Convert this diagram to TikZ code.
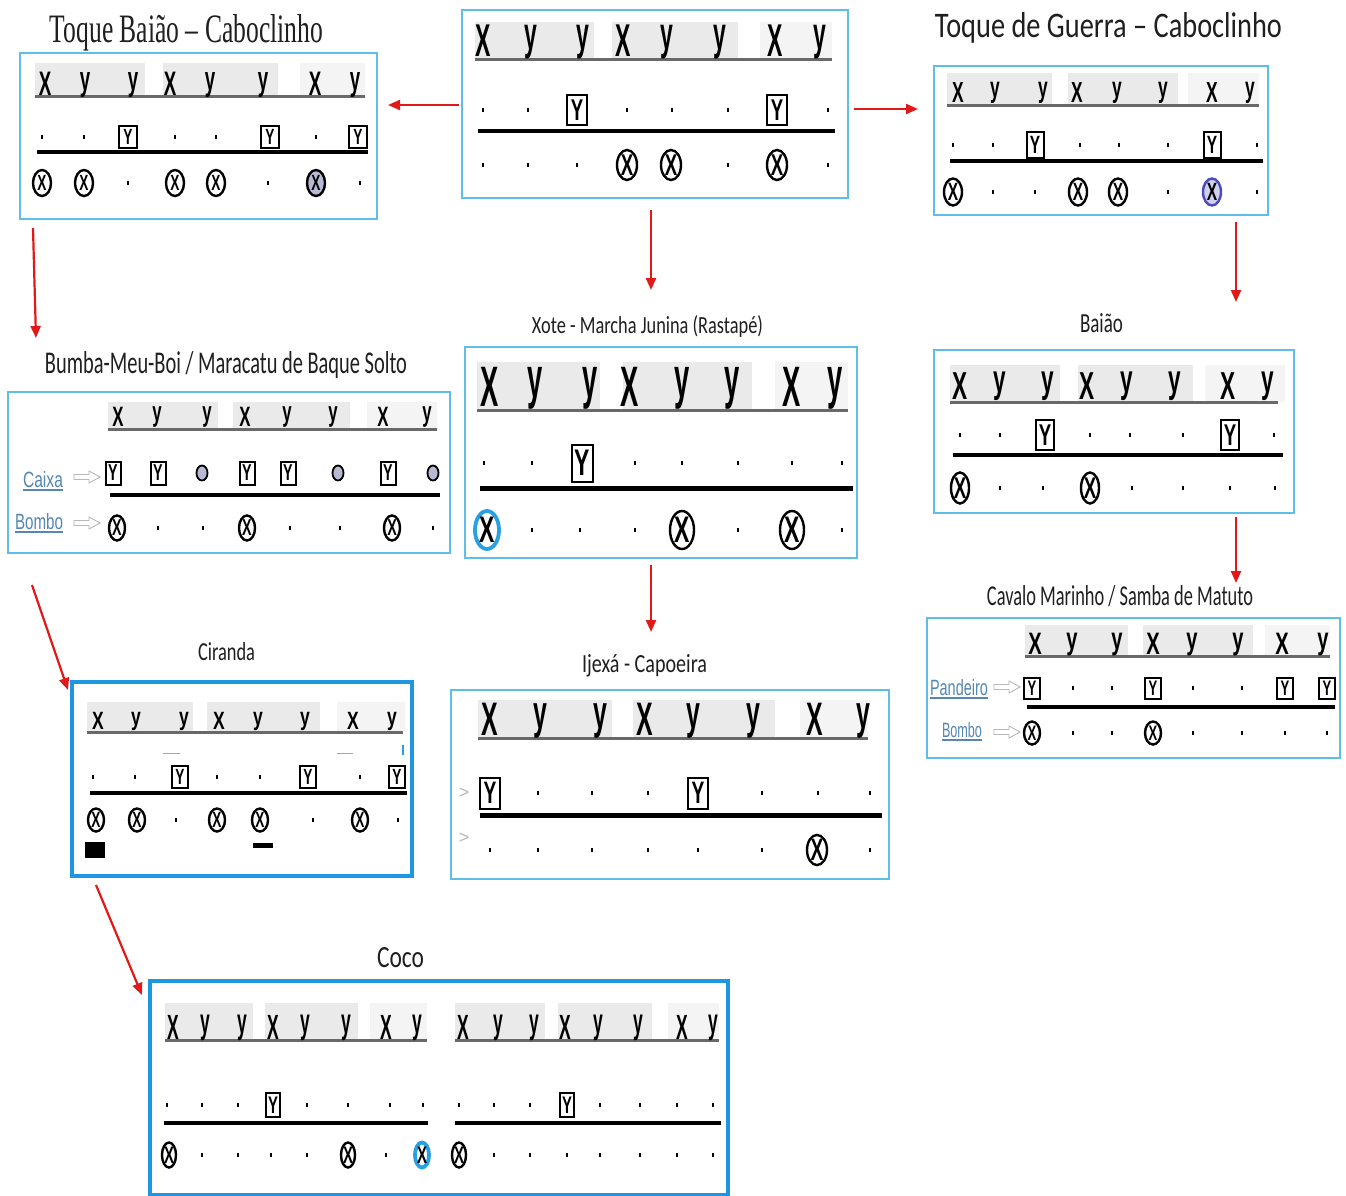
\documentclass[tikz,border=0pt]{standalone}
\usepackage{fontspec}
\usepackage{graphicx}
\usetikzlibrary{shapes.geometric,arrows.meta,calc}
\newfontfamily\hdf{Liberation Sans}
\newfontfamily\tsf{Carlito}
\newfontfamily\tsr{Liberation Serif}
\definecolor{panelblue}{RGB}{95,190,232}
\definecolor{panelblueB}{RGB}{30,150,225}
\definecolor{hdgray}{RGB}{234,234,234}
\definecolor{hdgrayL}{RGB}{244,244,244}
\definecolor{ulgray}{RGB}{105,105,105}
\definecolor{lav}{RGB}{185,185,212}
\definecolor{lavB}{RGB}{208,208,238}
\definecolor{violetblue}{RGB}{75,75,185}
\definecolor{ringblue}{RGB}{40,160,225}
\definecolor{lblue}{RGB}{85,135,178}
\definecolor{arrred}{RGB}{225,25,25}
\def\HS{30}\def\HX{0.55}\def\BW{18}\def\BH{22}\def\CW{18}\def\CH{26}\def\GS{20}
\newcommand\setp[7]{\def\HS{#1}\def\HX{#2}\def\BW{#3}\def\BH{#4}\def\CW{#5}\def\CH{#6}\def\GS{#7}}
\newcommand\gly[1]{\scalebox{0.62}[1]{\hdf\bfseries\fontsize{\GS}{\GS}\selectfont #1}}
\def\Tdt{}
\def\Tsc{}
\def\Tby{\gly{Y}}
\def\Tcx{\gly{X}}
\def\Tcxg{\gly{X}}
\def\Tcxv{\gly{X}}
\def\Tcxb{\gly{X}}
\newcommand\glyrow[3]{\foreach \x/\typ [count=\i] in {#3} {\node[\typ] (#1\i) at (\x,#2) {\csname T\typ\endcsname};}}
\newcommand\hdrow[3]{\foreach \x [count=\i] in {#3} {\node[hd] (#1\i) at (\x,#2) {\scalebox{\HX}[1]{\ifnum\i=1 X\else\ifnum\i=4 X\else\ifnum\i=7 X\else y\fi\fi\fi}};}}
\newcommand\gblk[4]{\fill[hdgray] (#1,#2) rectangle (#3,#4);}
\newcommand\gblkL[4]{\fill[hdgrayL] (#1,#2) rectangle (#3,#4);}
\newcommand\harrow[2]{\draw[hollow] (#1,#2-2.5) -- ++(15,0) -- ++(0,-3.5) -- ++(11,6) -- ++(-11,6) -- ++(0,-3.5) -- ++(-15,0) -- cycle;}
\tikzset{
  panel/.style={rectangle, draw=panelblue, line width=2, fill=white, inner sep=0, outer sep=0, anchor=north west},
  panelB/.style={panel, draw=panelblueB, line width=3.5},
  ttl/.style={anchor=base, inner sep=0, outer sep=0, text=black!88},
  hd/.style={anchor=north, inner sep=0, font=\hdf\bfseries\fontsize{\HS}{\HS}\selectfont},
  dt/.style={rectangle, fill=black, inner sep=0, minimum width=2.8, minimum height=4.4},
  by/.style={rectangle, draw=black, line width=2, fill=white, inner sep=0, minimum width=\BW, minimum height=\BH},
  cx/.style={ellipse, draw=black, line width=2.4, fill=white, inner sep=0, minimum width=\CW, minimum height=\CH},
  cxg/.style={cx, fill=lav},
  cxv/.style={cx, draw=violetblue, fill=lavB},
  cxb/.style={cx, draw=ringblue, line width=3.8},
  sc/.style={ellipse, draw=black, line width=1.8, fill=lav, inner sep=0, minimum width=11, minimum height=15},
  ul/.style={draw=ulgray, line width=3},
  bar/.style={draw=black, line width=4},
  arr/.style={draw=arrred, line width=2.2, -{Triangle[length=12pt,width=10pt]}},
  lab/.style={anchor=base, inner sep=0, outer sep=0, text=lblue},
  hollow/.style={draw=black!28, line width=0.9, fill=white},
}
\begin{document}
\begin{tikzpicture}[x=1pt, y=-1pt]
\useasboundingbox (0,0) rectangle (1346,1196);
\fill[white] (0,0) rectangle (1346,1196);

% ---------- panels ----------
\node[panel, minimum width=357, minimum height=166] (pA) at (20,53) {};
\node[panel, minimum width=386, minimum height=188] (pB) at (462,10) {};
\node[panel, minimum width=334, minimum height=149] (pC) at (934,66) {};
\node[panel, minimum width=442, minimum height=161] (pD) at (8,392) {};
\node[panel, minimum width=392, minimum height=211] (pE) at (465,347) {};
\node[panel, minimum width=360, minimum height=163] (pF) at (934,350) {};
\node[panel, minimum width=413, minimum height=140] (pG) at (927,618) {};
\node[panelB, minimum width=340, minimum height=194] (pH) at (72,682) {};
\node[panel, minimum width=438, minimum height=189] (pI) at (451,690) {};
\node[panelB, minimum width=578, minimum height=214] (pJ) at (150,981) {};

% ---------- A: Toque Baiao ----------
\setp{34}{0.55}{18}{22}{18}{26}{22}
\gblk{35}{63}{145}{97}\gblk{163}{63}{278}{97}\gblkL{300}{63}{365}{97}
\draw[ul] (35,97) -- (365,97);
\hdrow{Ah}{72}{45,85,133,170,210,263,315,355}
\glyrow{Am}{137}{42/dt,84/dt,128/by,175/dt,216/dt,270/by,316/dt,358/by}
\draw[bar] (37,152) -- (368,152);
\glyrow{Ab}{183}{42/cx,84/cx,128/dt,175/cx,216/cx,268/dt,316/cxg,360/dt}

% ---------- B: top centre ----------
\setp{46}{0.5}{20}{30}{20}{30}{30}
\gblk{475}{22}{594}{60}\gblk{612}{22}{738}{60}\gblkL{760}{22}{832}{60}
\draw[ul] (475,60) -- (832,60);
\hdrow{Bh}{25}{483,531,583,623,667,720,775,820}
\glyrow{Bm}{110}{483/dt,528/dt,577/by,627/dt,672/dt,728/dt,777/by,828/dt}
\draw[bar] (478,131) -- (835,131);
\glyrow{Bb}{165}{483/dt,528/dt,577/dt,627/cx,671/cx,728/dt,777/cx,828/dt}

% ---------- C: Toque de Guerra ----------
\setp{29}{0.6}{17}{25}{18}{27}{25}
\gblk{947}{73}{1052}{106}\gblk{1068}{73}{1178}{106}\gblkL{1188}{73}{1259}{106}
\draw[ul] (947,106) -- (1259,106);
\hdrow{Ch}{82}{958,995,1043,1077,1117,1163,1212,1250}
\glyrow{Cm}{145}{953/dt,993/dt,1035/by,1080/dt,1119/dt,1168/dt,1212/by,1257/dt}
\draw[bar] (950,161) -- (1263,161);
\glyrow{Cb}{192}{953/cx,993/dt,1035/dt,1078/cx,1118/cx,1168/dt,1212/cxv,1257/dt}

% ---------- D: Bumba-Meu-Boi ----------
\setp{28}{0.6}{15}{23}{16}{25}{23}
\gblk{108}{402}{218}{429}\gblk{233}{402}{350}{429}\gblkL{367}{402}{437}{429}
\draw[ul] (108,429) -- (437,429);
\hdrow{Dh}{407}{118,157,207,245,287,333,383,427}
\glyrow{Dm}{473}{113/by,158/by,202/sc,247/by,288/by,338/sc,388/by,433/sc}
\draw[bar] (110,495) -- (440,495);
\glyrow{Db}{528}{117/cx,158/dt,203/dt,247/cx,290/dt,340/dt,392/cx,433/dt}
\node[lab] (lCaixa) at (43,487) {\resizebox{40pt}{16pt}{\hdf Caixa}};
\draw[draw=lblue, line width=1.2] ([yshift=-3]lCaixa.base west) -- ([yshift=-3]lCaixa.base east);
\node[lab] (lBomboD) at (39,529) {\resizebox{48pt}{16pt}{\hdf Bombo}};
\draw[draw=lblue, line width=1.2] ([yshift=-3]lBomboD.base west) -- ([yshift=-3]lBomboD.base east);
\harrow{74}{477}
\harrow{74}{523}

% ---------- E: Xote ----------
\setp{57}{0.48}{21}{37}{24}{38}{37}
\gblk{477}{362}{600}{410}\gblk{623}{362}{752}{410}\gblkL{775}{362}{848}{410}
\draw[ul] (477,410) -- (848,410);
\hdrow{Eh}{367}{490,535,590,630,682,732,792,835}
\glyrow{Em}{463}{484/dt,532/dt,582/by,635/dt,682/dt,738/dt,792/dt,842/dt}
\draw[bar, line width=5] (480,488) -- (853,488);
\glyrow{Eb}{530}{487/cxb,532/dt,580/dt,635/dt,682/cx,738/dt,792/cx,842/dt}

% ---------- F: Baiao ----------
\setp{39}{0.58}{18}{30}{18}{31}{30}
\gblk{950}{365}{1060}{402}\gblk{1078}{365}{1193}{402}\gblkL{1205}{365}{1285}{402}
\draw[ul] (950,402) -- (1278,402);
\hdrow{Fh}{372}{960,1000,1048,1087,1127,1175,1228,1268}
\glyrow{Fm}{435}{960/dt,1000/dt,1045/by,1090/dt,1130/dt,1183/dt,1230/by,1274/dt}
\draw[bar] (953,455) -- (1283,455);
\glyrow{Fb}{488}{960/cx,1000/dt,1043/dt,1090/cx,1132/dt,1183/dt,1230/dt,1275/dt}

% ---------- G: Cavalo Marinho ----------
\setp{31}{0.65}{16}{21}{16}{23}{21}
\gblk{1025}{625}{1128}{656}\gblk{1143}{625}{1253}{656}\gblkL{1265}{625}{1330}{656}
\draw[ul] (1025,656) -- (1330,656);
\hdrow{Gh}{633}{1035,1072,1117,1153,1192,1238,1282,1323}
\glyrow{Gm}{688}{1032/by,1073/dt,1112/dt,1153/by,1193/dt,1242/dt,1285/by,1327/by}
\draw[bar] (1027,707) -- (1335,707);
\glyrow{Gb}{733}{1032/cx,1073/dt,1112/dt,1153/cx,1193/dt,1242/dt,1285/dt,1327/dt}
\node[lab] (lPand) at (959,695) {\resizebox{58pt}{16pt}{\hdf Pandeiro}};
\draw[draw=lblue, line width=1.1] ([yshift=-3]lPand.base west) -- ([yshift=-3]lPand.base east);
\node[lab] (lBomboG) at (962,737) {\resizebox{40pt}{15pt}{\hdf Bombo}};
\draw[draw=lblue, line width=1.1] ([yshift=-3]lBomboG.base west) -- ([yshift=-3]lBomboG.base east);
\harrow{994}{687}
\harrow{994}{732}

% ---------- H: Ciranda ----------
\setp{25}{0.7}{16}{22}{16}{23}{22}
\gblk{87}{702}{193}{732}\gblk{207}{702}{320}{732}\gblkL{337}{702}{405}{732}
\draw[ul] (87,732) -- (403,732);
\hdrow{Hh}{712}{98,136,184,219,258,305,353,392}
\draw[black!35, line width=1] (163,753) -- (180,753);
\draw[black!35, line width=1] (337,753) -- (353,753);
\draw[ringblue, line width=1.2] (403,745) -- (403,755);
\glyrow{Hm}{777}{93/dt,135/dt,180/by,217/dt,260/dt,308/by,360/dt,397/by}
\draw[bar] (90,793) -- (407,793);
\glyrow{Hb}{820}{96/cx,137/cx,176/dt,217/cx,260/cx,313/dt,360/cx,398/dt}
\fill[black] (85,842) rectangle (105,858);
\fill[black] (253,843) rectangle (273,848);

% ---------- I: Ijexa ----------
\setp{47}{0.53}{20}{31}{20}{29}{31}
\gblk{478}{700}{612}{738}\gblk{633}{700}{775}{738}\gblkL{800}{700}{868}{738}
\draw[ul] (478,738) -- (868,738);
\hdrow{Ih}{703}{490,540,600,645,693,753,815,863}
\node[text=black!28, inner sep=0, font=\hdf\fontsize{18}{18}\selectfont] (gtA) at (464,793) {>};
\node[text=black!28, inner sep=0, font=\hdf\fontsize{18}{18}\selectfont] (gtB) at (464,838) {>};
\glyrow{Im}{793}{490/by,538/dt,592/dt,648/dt,698/by,762/dt,818/dt,870/dt}
\draw[bar, line width=5] (480,815) -- (882,815);
\glyrow{Ib}{850}{490/dt,538/dt,592/dt,648/dt,698/dt,762/dt,817/cx,870/dt}

% ---------- J: Coco ----------
\setp{35}{0.5}{14}{24}{14}{25}{24}
\gblk{165}{1003}{253}{1039}\gblk{265}{1003}{358}{1039}\gblkL{370}{1003}{427}{1039}
\gblk{455}{1003}{545}{1039}\gblk{558}{1003}{652}{1039}\gblkL{668}{1003}{719}{1039}
\draw[ul] (165,1040) -- (427,1040);
\draw[ul] (455,1040) -- (719,1040);
\hdrow{JLh}{1015}{173,205,242,273,305,346,386,417}
\hdrow{JRh}{1015}{463,498,534,565,598,638,682,713}
\glyrow{JLm}{1105}{167/dt,202/dt,238/dt,273/by,307/dt,348/dt,390/dt,423/dt}
\glyrow{JRm}{1105}{459/dt,494/dt,530/dt,567/by,600/dt,640/dt,677/dt,713/dt}
\draw[bar, line width=3.5] (164,1123) -- (428,1123);
\draw[bar, line width=3.5] (455,1123) -- (721,1123);
\glyrow{JLb}{1155}{169/cx,202/dt,238/dt,271/dt,307/dt,348/cx,386/dt,422/cxb}
\glyrow{JRb}{1155}{459/cx,494/dt,530/dt,567/dt,600/dt,640/dt,677/dt,713/dt}

% ---------- titles ----------
\node[ttl] (tA) at (186.5,43) {\resizebox{273pt}{28pt}{\tsr Toque Baião – Caboclinho}};
\node[ttl] (tC) at (1108.5,38) {\resizebox{347pt}{25pt}{\tsf Toque de Guerra – Caboclinho}};
\node[ttl] (tD) at (226,373) {\resizebox{362pt}{22pt}{\tsf Bumba-Meu-Boi / Maracatu de Baque Solto}};
\node[ttl] (tE) at (647.5,333) {\resizebox{231pt}{18pt}{\tsf Xote - Marcha Junina (Rastapé)}};
\node[ttl] (tF) at (1101.5,332) {\resizebox{43pt}{19pt}{\tsf Baião}};
\node[ttl] (tG) at (1120,605) {\resizebox{266pt}{20pt}{\tsf Cavalo Marinho / Samba de Matuto}};
\node[ttl] (tH) at (226.5,660) {\resizebox{57pt}{18pt}{\tsf Ciranda}};
\node[ttl] (tI) at (644.5,672) {\resizebox{125pt}{18pt}{\tsf Ijexá - Capoeira}};
\node[ttl] (tJ) at (400.5,967) {\resizebox{47pt}{20pt}{\tsf Coco}};

% ---------- arrows ----------
\draw[arr] ($(pB.west)+(-3,1)$) -- ($(pA.east)+(11,-31)$);
\draw[arr] ($(pB.east)+(6,5)$) -- ($(pC.west)+(-16,-31.5)$);
\draw[arr] ($(pB.south)+(-4,12)$) -- ($(tE.north)+(3.5,-25)$);
\draw[arr] ($(pA.south west)+(13,9)$) -- ($(tD.north west)+(-9,-13)$);
\draw[arr] ($(pC.south east)+(-32,7)$) -- ($(pF.north east)+(-58,-48)$);
\draw[arr] ($(pF.south east)+(-58,4)$) -- ($(tG.north)+(116,-2)$);
\draw[arr] ($(pD.south west)+(24,32)$) -- ($(pH.north west)+(-4,8)$);
\draw[arr] ($(pE.south)+(-10,7)$) -- ($(tI.north)+(6.5,-22)$);
\draw[arr] ($(pH.south west)+(24,9)$) -- ($(pJ.north west)+(-8,14)$);
\end{tikzpicture}
\end{document}
